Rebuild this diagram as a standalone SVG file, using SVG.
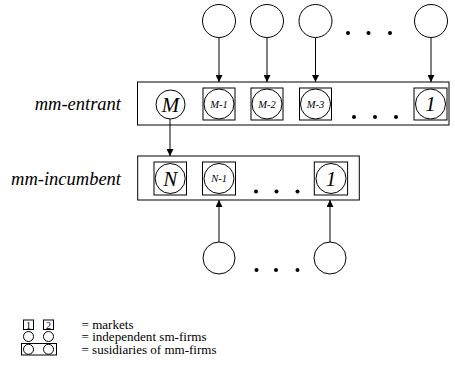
<svg xmlns="http://www.w3.org/2000/svg" width="455" height="378" viewBox="0 0 455 378">
<defs>
<style>
.ln{stroke:#000;stroke-width:1;fill:none}
.c{stroke:#000;stroke-width:1;fill:#fff}
.dot{fill:#000}
.lab{font-family:"Liberation Serif","DejaVu Serif",serif;font-style:italic;font-size:18.5px;fill:#000}
.big{font-family:"Liberation Serif","DejaVu Serif",serif;font-style:italic;font-size:21px;fill:#000;text-anchor:middle}
.sm{font-family:"Liberation Serif","DejaVu Serif",serif;font-style:italic;font-size:10.5px;fill:#000;text-anchor:middle}
.leg{font-family:"Liberation Serif","DejaVu Serif",serif;font-size:11.5px;fill:#000}
.legn{font-family:"Liberation Serif","DejaVu Serif",serif;font-size:10px;fill:#000;text-anchor:middle}
</style>
<marker id="ah" viewBox="0 0 10 10" refX="10" refY="5" markerWidth="7" markerHeight="7" markerUnits="userSpaceOnUse" orient="auto">
<path d="M0,0 L10,5 L0,10 z" fill="#000"/>
</marker>
</defs>
<rect width="455" height="378" fill="#fff"/>

<g id="connectors">
<line class="ln" x1="219" y1="38" x2="219" y2="82" marker-end="url(#ah)"/>
<line class="ln" x1="267" y1="38" x2="267" y2="82" marker-end="url(#ah)"/>
<line class="ln" x1="315.5" y1="38" x2="315.5" y2="82" marker-end="url(#ah)"/>
<line class="ln" x1="431" y1="38" x2="431" y2="82" marker-end="url(#ah)"/>
<line class="ln" x1="170" y1="119" x2="170" y2="156" marker-end="url(#ah)"/>
<line class="ln" x1="219" y1="242" x2="219" y2="200" marker-end="url(#ah)"/>
<line class="ln" x1="330" y1="242" x2="330" y2="200" marker-end="url(#ah)"/>
</g>

<g id="top-firms">
<circle class="c" cx="219" cy="21" r="16.5"/>
<circle class="c" cx="267" cy="21" r="16.5"/>
<circle class="c" cx="315.5" cy="21" r="16.5"/>
<circle class="c" cx="431" cy="21" r="16.5"/>
<circle class="dot" cx="348" cy="33" r="2"/>
<circle class="dot" cx="368.5" cy="33" r="2"/>
<circle class="dot" cx="390" cy="33" r="2"/>
</g>

<g id="mm-entrant">
<text class="lab" x="121" y="110" text-anchor="end">mm-entrant</text>
<rect class="ln" x="137.5" y="82" width="311.5" height="43"/>
<circle class="c" cx="170.5" cy="104.5" r="14.5"/>
<text class="big" x="170.5" y="111.5">M</text>
<rect class="ln" x="203" y="88" width="32" height="32"/>
<circle class="c" cx="219" cy="104" r="15"/>
<text class="sm" x="219" y="108">M-1</text>
<rect class="ln" x="251" y="88" width="32" height="32"/>
<circle class="c" cx="267" cy="104" r="15"/>
<text class="sm" x="267" y="108">M-2</text>
<rect class="ln" x="299.5" y="88" width="32" height="32"/>
<circle class="c" cx="315.5" cy="104" r="15"/>
<text class="sm" x="315.5" y="108">M-3</text>
<circle class="dot" cx="354" cy="117" r="2"/>
<circle class="dot" cx="375" cy="117" r="2"/>
<circle class="dot" cx="396" cy="117" r="2"/>
<rect class="ln" x="414" y="88" width="33" height="32"/>
<circle class="c" cx="430.5" cy="104" r="15"/>
<text class="big" x="430.5" y="111">1</text>
</g>

<g id="mm-incumbent">
<text class="lab" x="121" y="185" text-anchor="end">mm-incumbent</text>
<rect class="ln" x="137.7" y="156" width="221.6" height="44"/>
<rect class="ln" x="154" y="162" width="32.5" height="33"/>
<circle class="c" cx="170.2" cy="178.5" r="15"/>
<text class="big" x="170.2" y="185.5">N</text>
<rect class="ln" x="202.5" y="162" width="33" height="33"/>
<circle class="c" cx="219" cy="178.5" r="15"/>
<text class="sm" x="219" y="182">N-1</text>
<circle class="dot" cx="256" cy="191.5" r="2"/>
<circle class="dot" cx="276.5" cy="191.5" r="2"/>
<circle class="dot" cx="297.5" cy="191.5" r="2"/>
<rect class="ln" x="314.3" y="162" width="33.3" height="33"/>
<circle class="c" cx="331" cy="178.5" r="15"/>
<text class="big" x="331" y="185.5">1</text>
</g>

<g id="bottom-firms">
<circle class="c" cx="219" cy="258" r="16"/>
<circle class="c" cx="330" cy="258" r="16"/>
<circle class="dot" cx="256.5" cy="270" r="2"/>
<circle class="dot" cx="276" cy="270" r="2"/>
<circle class="dot" cx="297.5" cy="270" r="2"/>
</g>

<g id="legend">
<rect class="ln" x="23.5" y="320" width="10" height="9.5"/>
<text class="legn" x="28.5" y="328.5">1</text>
<rect class="ln" x="43.5" y="320" width="10" height="9.5"/>
<text class="legn" x="48.5" y="328.5">2</text>
<text class="leg" x="81.5" y="328.5" textLength="52" lengthAdjust="spacingAndGlyphs">= markets</text>
<circle class="c" cx="28.5" cy="336.5" r="5"/>
<circle class="c" cx="48.5" cy="336.5" r="5"/>
<text class="leg" x="81.5" y="341" textLength="125" lengthAdjust="spacingAndGlyphs">= independent sm-firms</text>
<rect class="ln" x="21.5" y="343.5" width="35" height="11.5"/>
<circle class="c" cx="28.5" cy="349.3" r="5"/>
<circle class="c" cx="48.5" cy="349.3" r="5"/>
<text class="leg" x="81.5" y="353.5" textLength="135" lengthAdjust="spacingAndGlyphs">= susidiaries of mm-firms</text>
</g>
</svg>
